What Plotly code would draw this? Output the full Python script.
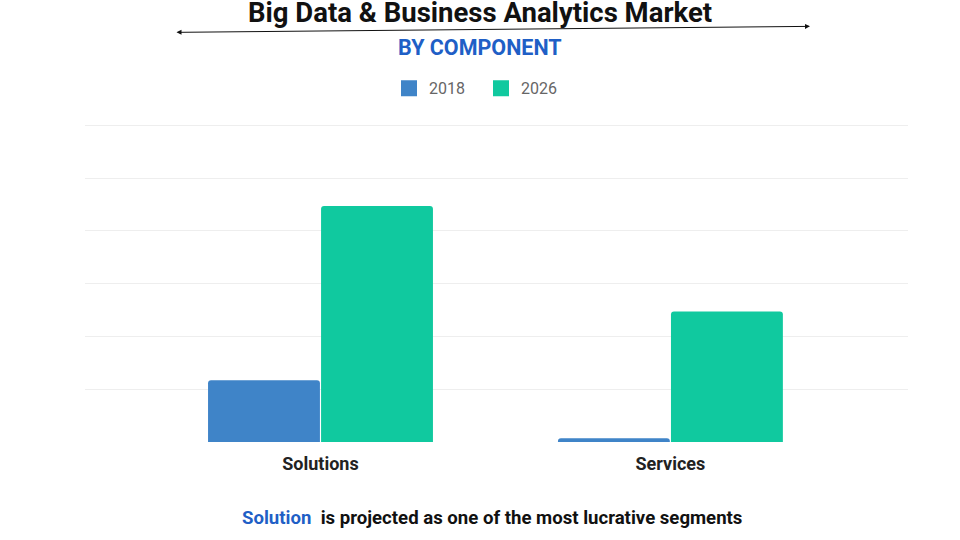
import plotly.graph_objects as go

categories = ["Solutions", "Services"]
years = ["2018", "2026"]
values_2018 = [1.17, 0.07]
values_2026 = [4.47, 2.47]
colors = ["#3F84C8", "#10C99F"]

W, H = 960, 540
YMAX = 6.1
L, R, B = 85, 908, 442
T = B - YMAX * (442 - 125) / 6.0  # plot area top so that 6 lands at y=125

def px(x):
    return (x - L) / (R - L)

def py(y):
    return (B - y) / (B - T)

fig = go.Figure()
for yr, vals, c in zip(years, [values_2018, values_2026], colors):
    fig.add_trace(go.Bar(name=yr, x=categories, y=vals, showlegend=False,
                         marker=dict(color=c, line=dict(width=0))))
# legend entries with square swatches
for yr, c in zip(years, colors):
    fig.add_trace(go.Scatter(name=yr, x=[None], y=[None], mode="markers",
                             marker=dict(symbol="square", size=17, color=c), showlegend=True))

fig.update_layout(
    width=W, height=H,
    margin=dict(l=L, r=W - R, t=T, b=H - B),
    paper_bgcolor="white", plot_bgcolor="white",
    barmode="group", bargap=0.354, bargroupgap=0.01,
    barcornerradius=3,
    font=dict(family="Roboto", color="#222"),
    legend=dict(orientation="h", x=px(389), xanchor="left", y=py(88), yanchor="middle",
                font=dict(size=16, color="#666"), itemwidth=30, entrywidth=47,
                traceorder="normal"),
    xaxis=dict(range=[-0.673, 1.679], showgrid=False, showline=False, ticks="",
               ticklabelstandoff=9,
               tickfont=dict(size=18, color="#222", family="Roboto", weight="bold")),
    yaxis=dict(range=[0, YMAX], dtick=1, showticklabels=False, gridcolor="#EEEEEE", gridwidth=1,
               zeroline=False, showline=False),
    showlegend=True,
)

fig.add_annotation(text="<b>Big Data &amp; Business Analytics Market</b>", xref="paper", yref="paper",
                   x=px(480), y=py(12.5), xanchor="center", yanchor="middle", showarrow=False,
                   font=dict(size=27.5, color="#111", family="Roboto"))
fig.add_annotation(text="<b>BY COMPONENT</b>", xref="paper", yref="paper",
                   x=px(480), y=py(47.5), xanchor="center", yanchor="middle", showarrow=False,
                   font=dict(size=21.5, color="#1F5FC6", family="Roboto"))
fig.add_annotation(text="", xref="paper", yref="paper", x=px(810), y=py(26),
                   axref="pixel", ayref="pixel", ax=-635, ay=6, showarrow=True,
                   arrowhead=2, startarrowhead=2, arrowside="end+start", arrowsize=1,
                   startarrowsize=1, arrowwidth=1, arrowcolor="#111", standoff=0, startstandoff=0)
fig.add_annotation(text="<span style='color:#1F5FC6'><b>Solution</b></span><b>  is projected as one of the most lucrative segments</b>",
                   xref="paper", yref="paper", x=px(492), y=py(518), xanchor="center", yanchor="middle",
                   showarrow=False, font=dict(size=18.6, color="#111", family="Roboto"))

fig.write_html("out.html", config={"displayModeBar": False},
               post_script="document.body.style.margin='0';")
